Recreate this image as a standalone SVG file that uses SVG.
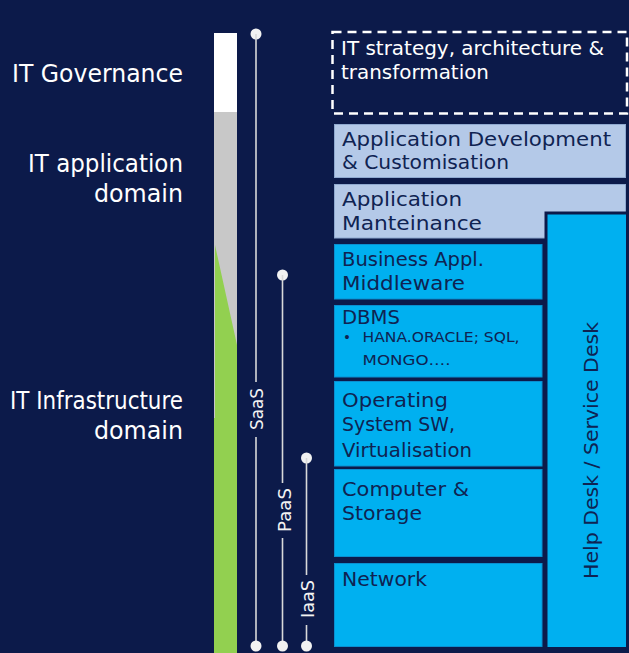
<svg xmlns="http://www.w3.org/2000/svg" width="629" height="653" viewBox="0 0 629 653">
<defs>
<style>
.lbl{font-family:"DejaVu Sans","Liberation Sans",sans-serif;font-size:24px;fill:#ffffff;text-anchor:end}
.bt{font-family:"DejaVu Sans","Liberation Sans",sans-serif;font-size:20px;fill:#0f2352}
.st{font-family:"DejaVu Sans","Liberation Sans",sans-serif;font-size:13.5px;fill:#0f2352}
.wt{font-family:"DejaVu Sans","Liberation Sans",sans-serif;font-size:19px;fill:#ffffff}
.rt{font-family:"DejaVu Sans","Liberation Sans",sans-serif;font-size:18px;fill:#f2f2f2}
.lb{fill:#b4c9e8;stroke:#8fa9d0;stroke-width:1}
.bb{fill:#00b0f0;stroke:#0a8fd0;stroke-width:1}
.ln{stroke:#d9d9d9;stroke-width:1.6;fill:none}
.dot{fill:#f2f2f2}
</style>
</defs>
<rect x="0" y="0" width="629" height="653" fill="#0c1a4a"/>

<g id="labels">
<text class="lbl" x="183" y="82" textLength="171" lengthAdjust="spacingAndGlyphs">IT Governance</text>
<text class="lbl" x="183" y="172" textLength="155" lengthAdjust="spacingAndGlyphs">IT application</text>
<text class="lbl" x="183" y="201.5" textLength="89" lengthAdjust="spacingAndGlyphs">domain</text>
<text class="lbl" x="183" y="409" textLength="173" lengthAdjust="spacingAndGlyphs">IT Infrastructure</text>
<text class="lbl" x="183" y="439" textLength="89" lengthAdjust="spacingAndGlyphs">domain</text>
</g>

<g id="bar">
<rect x="214" y="33" width="23" height="79" fill="#ffffff"/>
<rect x="214" y="112" width="23" height="541" fill="#c8c8c8"/>
<polygon points="215,245 237,345 237,653 214,653 214,418 215,418" fill="#92d050"/>
</g>

<g id="connectors">
<g id="saas">
<circle class="dot" cx="256" cy="34" r="5.5"/>
<line class="ln" x1="256" y1="34" x2="256" y2="382"/>
<line class="ln" x1="256" y1="437" x2="256" y2="646"/>
<circle class="dot" cx="256" cy="646" r="5.5"/>
<text class="rt" transform="translate(263,430) rotate(-90)" textLength="42" lengthAdjust="spacingAndGlyphs">SaaS</text>
</g>
<g id="paas">
<circle class="dot" cx="282.5" cy="275" r="5.5"/>
<line class="ln" x1="282.5" y1="275" x2="282.5" y2="483"/>
<line class="ln" x1="282.5" y1="538" x2="282.5" y2="646"/>
<circle class="dot" cx="282.5" cy="646" r="5.5"/>
<text class="rt" transform="translate(290.5,532) rotate(-90)" textLength="44" lengthAdjust="spacingAndGlyphs">PaaS</text>
</g>
<g id="iaas">
<circle class="dot" cx="306.5" cy="458" r="5.5"/>
<line class="ln" x1="306.5" y1="458" x2="306.5" y2="575"/>
<line class="ln" x1="306.5" y1="625" x2="306.5" y2="646"/>
<circle class="dot" cx="306.5" cy="646" r="5.5"/>
<text class="rt" transform="translate(314,618) rotate(-90)" textLength="38" lengthAdjust="spacingAndGlyphs">IaaS</text>
</g>
</g>

<g id="it-strategy">
<rect x="332.5" y="32" width="294.5" height="81.5" fill="none" stroke="#ffffff" stroke-width="2.5" stroke-dasharray="9 6"/>
<text class="wt" x="341" y="55" textLength="263" lengthAdjust="spacingAndGlyphs">IT strategy, architecture &amp;</text>
<text class="wt" x="341" y="79" textLength="148" lengthAdjust="spacingAndGlyphs">transformation</text>
</g>

<g id="app-dev">
<rect class="lb" x="334.5" y="124.5" width="291" height="53"/>
<text class="bt" x="342" y="146" textLength="269" lengthAdjust="spacingAndGlyphs">Application Development</text>
<text class="bt" x="342" y="169" textLength="167" lengthAdjust="spacingAndGlyphs">&amp; Customisation</text>
</g>

<g id="app-maint">
<rect class="lb" x="334.5" y="184.5" width="291" height="53.5"/>
<text class="bt" x="342" y="206" textLength="120" lengthAdjust="spacingAndGlyphs">Application</text>
<text class="bt" x="342" y="230" textLength="140" lengthAdjust="spacingAndGlyphs">Manteinance</text>
</g>

<g id="business">
<rect class="bb" x="334.5" y="244.5" width="207.5" height="54.5"/>
<text class="bt" x="342" y="266" textLength="142" lengthAdjust="spacingAndGlyphs">Business Appl.</text>
<text class="bt" x="342" y="289.5" textLength="123" lengthAdjust="spacingAndGlyphs">Middleware</text>
</g>

<g id="dbms">
<rect class="bb" x="334.5" y="305.5" width="207.5" height="71.5"/>
<text class="bt" x="342" y="324" textLength="58" lengthAdjust="spacingAndGlyphs">DBMS</text>
<text class="st" x="343" y="342">•</text>
<text class="st" x="362.5" y="342" textLength="157" lengthAdjust="spacingAndGlyphs">HANA.ORACLE; SQL,</text>
<text class="st" x="362.5" y="364.5" textLength="88" lengthAdjust="spacingAndGlyphs">MONGO….</text>
</g>

<g id="os">
<rect class="bb" x="334.5" y="381.5" width="207.5" height="84.5"/>
<text class="bt" x="342" y="407" textLength="106" lengthAdjust="spacingAndGlyphs">Operating</text>
<text class="bt" x="342" y="431" textLength="113" lengthAdjust="spacingAndGlyphs">System SW,</text>
<text class="bt" x="342" y="457" textLength="130" lengthAdjust="spacingAndGlyphs">Virtualisation</text>
</g>

<g id="computer">
<rect class="bb" x="334.5" y="469.5" width="207.5" height="87"/>
<text class="bt" x="342" y="496" textLength="127" lengthAdjust="spacingAndGlyphs">Computer &amp;</text>
<text class="bt" x="342" y="519.5" textLength="80" lengthAdjust="spacingAndGlyphs">Storage</text>
</g>

<g id="network">
<rect class="bb" x="334.5" y="563.5" width="207.5" height="83"/>
<text class="bt" x="342" y="586" textLength="85" lengthAdjust="spacingAndGlyphs">Network</text>
</g>

<g id="help-desk">
<rect x="546" y="213" width="81.5" height="435.5" fill="#00b0f0" stroke="#0c1a4a" stroke-width="3"/>
<text class="bt" transform="translate(598,579) rotate(-90)" textLength="257" lengthAdjust="spacingAndGlyphs">Help Desk / Service Desk</text>
</g>
</svg>
